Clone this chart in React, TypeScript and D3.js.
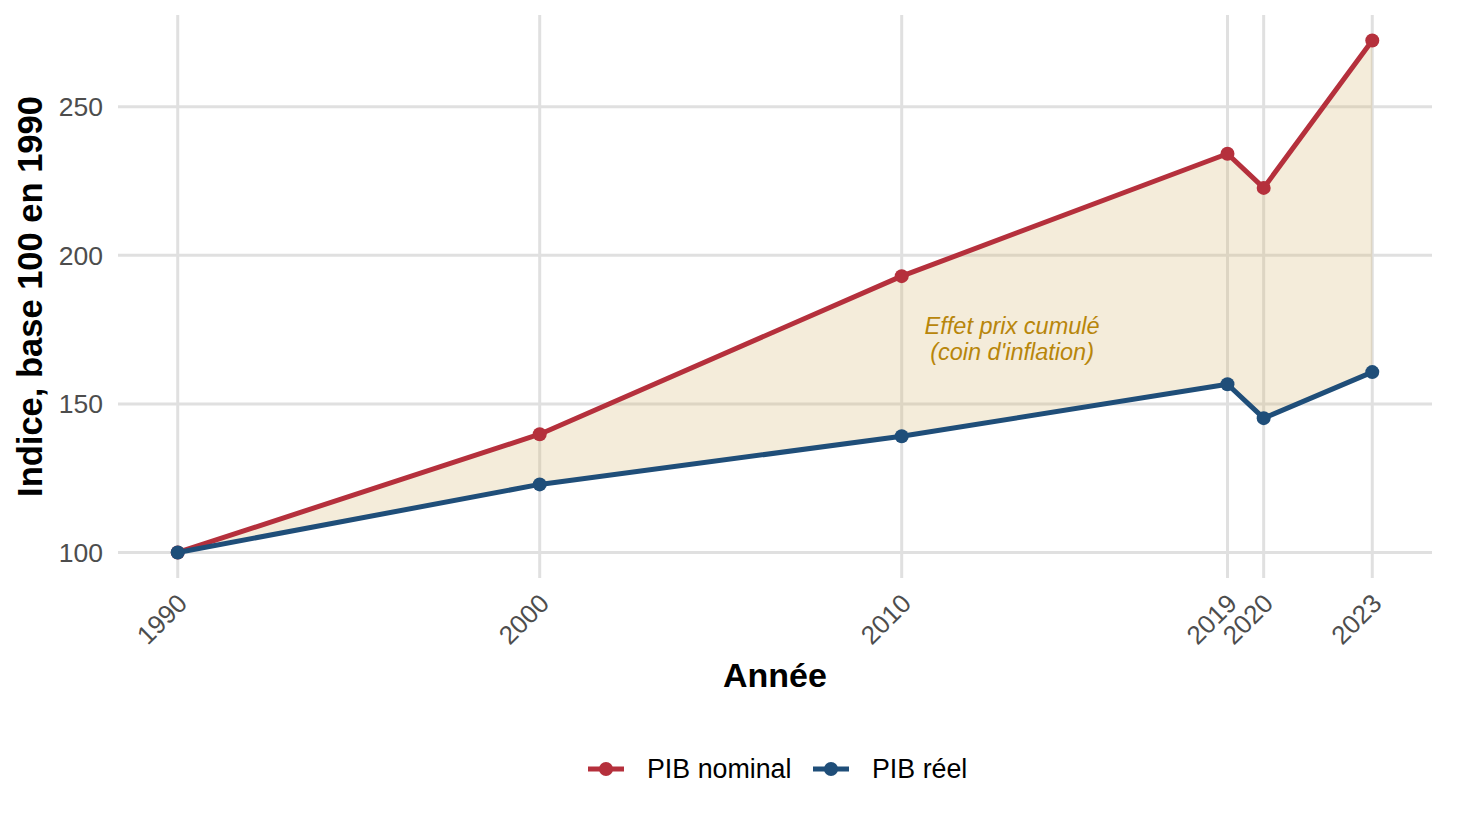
import React, { useEffect, useRef } from 'react';
import * as d3 from 'd3';

const years = [1990, 2000, 2010, 2019, 2020, 2023];
const nominal = [100, 139.8, 193.0, 234.2, 222.7, 272.3];
const reel = [100, 122.9, 139.1, 156.6, 145.2, 160.7];
const yTicks = [100, 150, 200, 250];
const seriesNames = ['PIB nominal', 'PIB réel'];
const annotationLines = ['Effet prix cumulé', "(coin d'inflation)"];
const annotationAt = { year: 2013.05, value: 172 };

const W = 1459;
const H = 825;
const margin = { top: 15, right: 27, bottom: 247, left: 118 };
const colors = ['#B5303C', '#1F4E79'];
const font = '"Liberation Sans", Arial, sans-serif';

const App: React.FC = () => {
  const svgRef = useRef<SVGSVGElement>(null);

  useEffect(() => {
    if (!svgRef.current) return;
    const root = d3.select(svgRef.current);
    root.selectAll('*').remove();

    const x0 = margin.left;
    const x1 = W - margin.right;
    const y0 = margin.top;
    const y1 = H - margin.bottom;

    // ggplot-like 5% expansion
    const xs = d3.scaleLinear().domain([1988.35, 2024.65]).range([x0, x1]);
    const ys = d3.scaleLinear().domain([91.4, 280.9]).range([y1, y0]);

    const g = root.append('g');

    // grid
    g.selectAll('line.hgrid')
      .data(yTicks)
      .join('line')
      .attr('x1', x0).attr('x2', x1)
      .attr('y1', d => ys(d)).attr('y2', d => ys(d))
      .attr('stroke', '#E0E0E0').attr('stroke-width', 3);
    g.selectAll('line.vgrid')
      .data(years)
      .join('line')
      .attr('x1', d => xs(d)).attr('x2', d => xs(d))
      .attr('y1', y0).attr('y2', y1)
      .attr('stroke', '#E0E0E0').attr('stroke-width', 3);

    // ribbon
    const rows = years.map((yr, i) => ({ yr, n: nominal[i], r: reel[i] }));
    const area = d3.area<{ yr: number; n: number; r: number }>()
      .x(d => xs(d.yr))
      .y0(d => ys(d.r))
      .y1(d => ys(d.n));
    g.append('path')
      .datum(rows)
      .attr('d', area)
      .attr('fill', '#D4B46A')
      .attr('fill-opacity', 0.25);

    // annotation
    const at = g.append('text')
      .attr('x', xs(annotationAt.year))
      .attr('y', ys(annotationAt.value))
      .attr('text-anchor', 'middle')
      .attr('font-family', font)
      .attr('font-style', 'italic')
      .attr('font-size', 23.5)
      .attr('fill', '#B8860B');
    annotationLines.forEach((t, i) => {
      at.append('tspan')
        .attr('x', xs(annotationAt.year))
        .attr('dy', i === 0 ? -5 : 26)
        .text(t);
    });

    // lines + points
    [nominal, reel].forEach((vals, si) => {
      const line = d3.line<number>()
        .x((_, i) => xs(years[i]))
        .y(d => ys(d));
      g.append('path')
        .datum(vals)
        .attr('d', line)
        .attr('fill', 'none')
        .attr('stroke', colors[si])
        .attr('stroke-width', 5)
        .attr('stroke-linejoin', 'round');
      g.selectAll(`circle.s${si}`)
        .data(vals)
        .join('circle')
        .attr('cx', (_, i) => xs(years[i]))
        .attr('cy', d => ys(d))
        .attr('r', 7)
        .attr('fill', colors[si]);
    });

    // y tick labels
    g.selectAll('text.ytick')
      .data(yTicks)
      .join('text')
      .attr('x', x0 - 15)
      .attr('y', d => ys(d))
      .attr('dy', '0.35em')
      .attr('text-anchor', 'end')
      .attr('font-family', font)
      .attr('font-size', 26.5)
      .attr('fill', '#4D4D4D')
      .text(d => d);

    // x tick labels
    g.selectAll('text.xtick')
      .data(years)
      .join('text')
      .attr('transform', d => `translate(${xs(d) + 11},${y1 + 27}) rotate(-45)`)
      .attr('text-anchor', 'end')
      .attr('font-family', font)
      .attr('font-size', 26)
      .attr('fill', '#4D4D4D')
      .text(d => d);

    // axis titles
    g.append('text')
      .attr('x', (x0 + x1) / 2)
      .attr('y', 687)
      .attr('text-anchor', 'middle')
      .attr('font-family', font)
      .attr('font-weight', 'bold')
      .attr('font-size', 34)
      .attr('fill', '#000')
      .text('Année');
    g.append('text')
      .attr('transform', `translate(42,${(y0 + y1) / 2}) rotate(-90)`)
      .attr('text-anchor', 'middle')
      .attr('font-family', font)
      .attr('font-weight', 'bold')
      .attr('font-size', 34.5)
      .attr('fill', '#000')
      .text('Indice, base 100 en 1990');

    // legend
    const legendX = [588, 813];
    seriesNames.forEach((name, i) => {
      const lg = g.append('g').attr('transform', `translate(${legendX[i]},769)`);
      lg.append('line')
        .attr('x1', 0).attr('x2', 36)
        .attr('stroke', colors[i]).attr('stroke-width', 5);
      lg.append('circle').attr('cx', 18).attr('r', 7).attr('fill', colors[i]);
      lg.append('text')
        .attr('x', 59)
        .attr('dy', '0.35em')
        .attr('font-family', font)
        .attr('font-size', 26.8)
        .attr('fill', '#000')
        .text(name);
    });
  }, []);

  return <svg ref={svgRef} width={W} height={H} style={{ display: 'block', margin: -8 }} />;
};

export default App;
